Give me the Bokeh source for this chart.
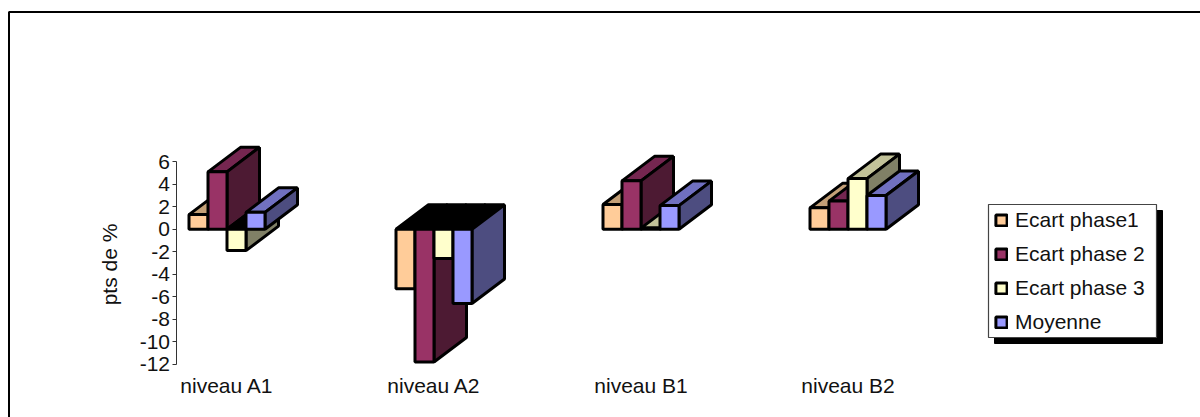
from math import pi

from bokeh.embed import file_html
from bokeh.models import BoxAnnotation, FixedTicker, Label, Legend, LegendItem, LinearAxis, Range1d
from bokeh.plotting import figure
from bokeh.resources import INLINE

categories = ["niveau A1", "niveau A2", "niveau B1", "niveau B2"]
series_names = ["Ecart phase1", "Ecart phase 2", "Ecart phase 3", "Moyenne"]
ecart_phase1 = [1.3, -5.3, 2.2, 1.9]
ecart_phase2 = [5.1, -11.8, 4.3, 2.5]
ecart_phase3 = [-1.9, -2.6, 0.1, 4.5]
moyenne = [1.5, -6.6, 2.1, 3.0]
series_values = [ecart_phase1, ecart_phase2, ecart_phase3, moyenne]
y_ticks = list(range(-12, 7, 2))

front_colors = ["#FFCC99", "#993366", "#FFFFCC", "#9999FF"]
top_colors = ["#C4A077", "#752650", "#C2C299", "#7070C0"]
side_colors = ["#806650", "#4D1A33", "#808066", "#4D4D80"]

WIDTH, HEIGHT = 1200, 417
PX_PER_CAT = 207.0
PX_PER_UNIT = 11.25
ZERO_Y = 228.7
FIRST_CENTER = 226.5
AXIS_X = 175.5
FONT = "Liberation Sans"
TEXT_SIZE = "21px"
EDGE = 3

bar_w = 19.0 / PX_PER_CAT
depth_x = 32.5 / PX_PER_CAT
depth_y = 24.5 / PX_PER_UNIT

p = figure(
    width=WIDTH, height=HEIGHT, output_backend="svg", toolbar_location=None,
    x_range=Range1d(-FIRST_CENTER / PX_PER_CAT, (WIDTH - FIRST_CENTER) / PX_PER_CAT),
    y_range=Range1d((ZERO_Y - HEIGHT) / PX_PER_UNIT, ZERO_Y / PX_PER_UNIT),
    x_axis_type=None, y_axis_type=None,
    min_border_left=0, min_border_right=0, min_border_top=0, min_border_bottom=0,
    outline_line_color=None, background_fill_color="white", border_fill_color="white",
)
p.grid.visible = False

# Both axes sit inside the plot area, which fills the whole page.
y_axis = LinearAxis(
    ticker=FixedTicker(ticks=y_ticks), bounds=(-12, 6),
    fixed_location=(AXIS_X - FIRST_CENTER) / PX_PER_CAT,
    major_label_overrides={t: str(t) for t in y_ticks},
)
y_axis.axis_line_color = "#333333"
y_axis.major_tick_line_color = "#333333"
y_axis.major_tick_in = 0
y_axis.major_tick_out = 4
y_axis.minor_tick_line_color = None
y_axis.major_label_standoff = 2
y_axis.major_label_text_font = FONT
y_axis.major_label_text_font_size = TEXT_SIZE
y_axis.major_label_text_color = "#111111"
p.add_layout(y_axis, "left")

x_axis = LinearAxis(
    ticker=FixedTicker(ticks=list(range(len(categories)))),
    major_label_overrides={i: c for i, c in enumerate(categories)},
    fixed_location=-12,
)
x_axis.axis_line_color = None
x_axis.major_tick_line_color = None
x_axis.minor_tick_line_color = None
x_axis.major_label_standoff = 4
x_axis.major_label_text_font = FONT
x_axis.major_label_text_font_size = TEXT_SIZE
x_axis.major_label_text_color = "#111111"
p.add_layout(x_axis, "below")

legend_items = []
for s, values in enumerate(series_values):
    lefts = [c + (s - 2) * bar_w for c in range(len(values))]
    rights = [x + bar_w for x in lefts]
    highs = [max(v, 0) for v in values]
    lows = [min(v, 0) for v in values]

    # Upper face sits at the bar's high end; a bar below zero shows a black face at zero.
    p.patches(
        xs=[[a, b, b + depth_x, a + depth_x] for a, b in zip(lefts, rights)],
        ys=[[h, h, h + depth_y, h + depth_y] for h in highs],
        fill_color=[top_colors[s] if v >= 0 else "black" for v in values],
        line_color="black", line_width=EDGE,
    )
    p.patches(
        xs=[[b, b + depth_x, b + depth_x, b] for b in rights],
        ys=[[h, h + depth_y, l + depth_y, l] for h, l in zip(highs, lows)],
        fill_color=side_colors[s], line_color="black", line_width=EDGE,
    )
    front = p.quad(
        left=lefts, right=rights, top=highs, bottom=lows,
        fill_color=front_colors[s], line_color="black", line_width=EDGE,
    )
    legend_items.append(LegendItem(label=series_names[s], renderers=[front]))


def screen_box(left, right, top, bottom, **style):
    # Screen y counts up from the foot of the page.
    return BoxAnnotation(
        left=left, right=right, top=HEIGHT - top, bottom=HEIGHT - bottom,
        left_units="screen", right_units="screen", top_units="screen", bottom_units="screen",
        **style,
    )


# Outer frame: only its top and left edges fall on the page.
p.add_layout(screen_box(8.5, WIDTH + 20, 11.5, HEIGHT + 20, fill_color=None, fill_alpha=0,
                        line_color="black", line_alpha=1, line_width=2))
p.add_layout(screen_box(994, 1162, 210, 343, fill_color="black", fill_alpha=1,
                        line_color="black", line_alpha=1))
p.add_layout(screen_box(988, 1156, 204, 337, fill_color="white", fill_alpha=1,
                        line_color="#444444", line_alpha=1, line_width=1.2))

legend = Legend(
    items=legend_items, location=(994, 83),
    glyph_width=14, glyph_height=14, label_standoff=7, spacing=10,
    padding=7, margin=0,
    label_text_font=FONT, label_text_font_size=TEXT_SIZE, label_text_color="#111111",
    border_line_color=None, background_fill_alpha=0,
)
p.add_layout(legend, "center")

p.add_layout(Label(
    x=109, y=HEIGHT - 264, x_units="screen", y_units="screen", angle=pi / 2,
    text="pts de %", text_align="center", text_baseline="middle",
    text_font=FONT, text_font_size=TEXT_SIZE, text_color="#111111",
))

open("out.html", "w").write(file_html(p, INLINE))
